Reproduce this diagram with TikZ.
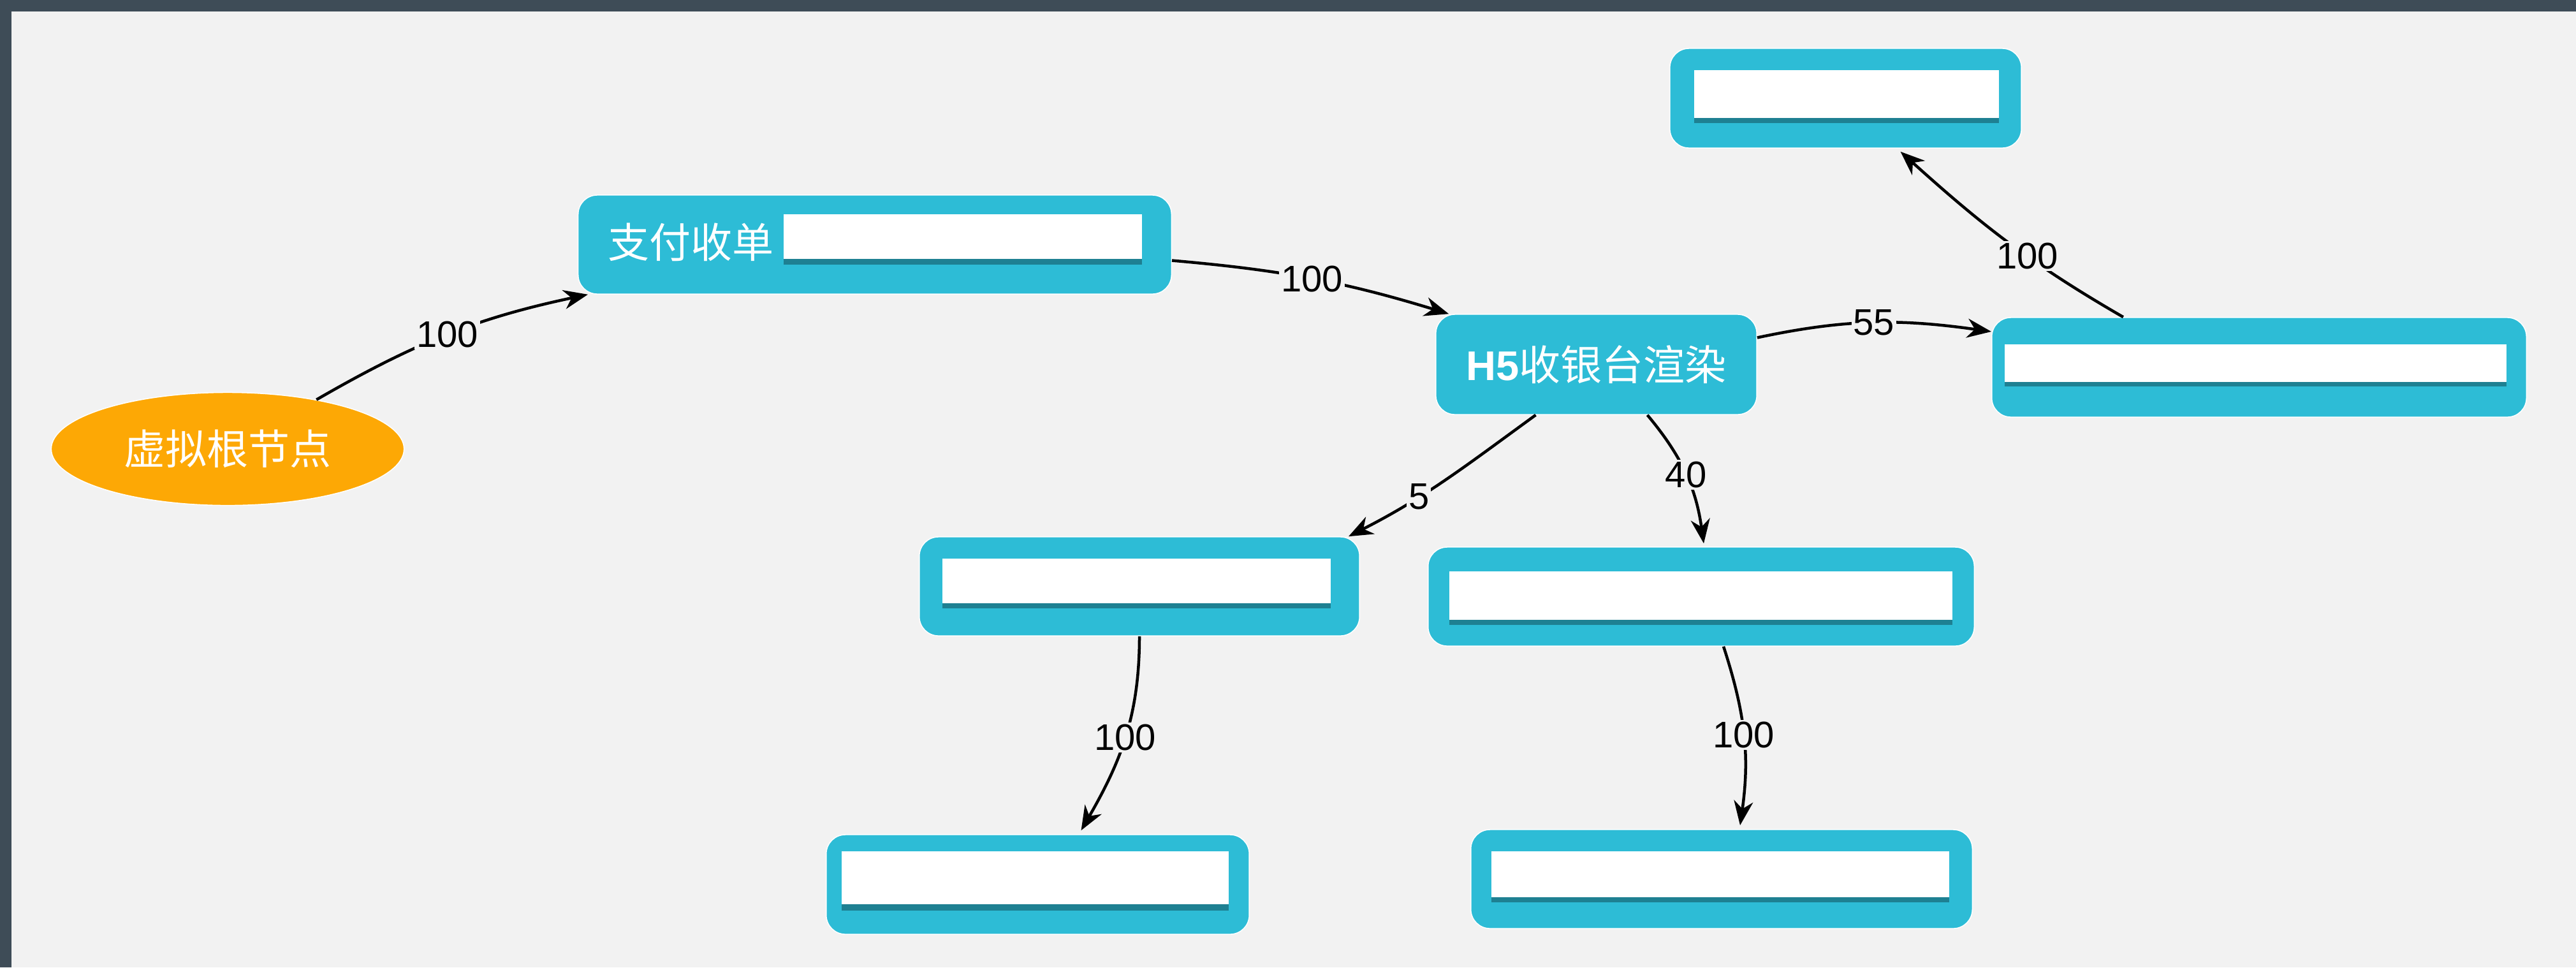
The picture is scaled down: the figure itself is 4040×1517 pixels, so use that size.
\documentclass[tikz,border=0pt]{standalone}
\usepackage{fontspec}
\setmainfont{Liberation Sans}
\newfontfamily\cjk{Noto Sans CJK SC}
\usetikzlibrary{shapes.geometric,arrows.meta}
\definecolor{bgdark}{RGB}{62,76,87}
\definecolor{bglight}{RGB}{242,242,242}
\definecolor{cyanbox}{RGB}{45,188,214}
\definecolor{orangeroot}{RGB}{253,168,5}
\definecolor{shadowc}{RGB}{30,128,146}
\begin{document}
\begin{tikzpicture}[x=0.01cm,y=-0.01cm,
  box/.style={rectangle, rounded corners=0.3cm, fill=cyanbox, draw=white, line width=0.015cm, inner sep=0pt},
  root/.style={ellipse, fill=orangeroot, draw=white, line width=0.015cm, inner sep=0pt},
  cjktxt/.style={text=white, font=\cjk\fontsize{18.5pt}{22pt}\selectfont, inner sep=0pt},
  conn/.style={line width=0.045cm, black, -{Stealth[length=0.38cm,width=0.3cm,inset=0.12cm]}},
  lbl/.style={fill=bglight, text=black, font=\fontsize{16.5pt}{18pt}\selectfont, inner sep=0.03cm},
  inner/.style={fill=white},
  innershadow/.style={fill=shadowc}
]
\fill[bgdark] (0,0) rectangle (4040,1517);
\fill[bglight] (18,18) rectangle (4040,1517);
\useasboundingbox (0,0) rectangle (4040,1517);

% nodes
\node[root, minimum width=5.53cm, minimum height=1.77cm, cjktxt, text=white] (root) at (357,704) {虚拟根节点};
\node[box, minimum width=9.30cm, minimum height=1.55cm] (A) at (1372,383.5) {};
\node[cjktxt, anchor=west] (Atxt) at (953,380) {支付收单};
\node[box, minimum width=5.03cm, minimum height=1.57cm, cjktxt, text=white] (H5) at (2503.5,571.5) {{\rmfamily\bfseries H5}收银台渲染};
\node[box, minimum width=8.38cm, minimum height=1.56cm] (R) at (3543,576) {};
\node[box, minimum width=5.51cm, minimum height=1.56cm] (T) at (2894.5,154) {};
\node[box, minimum width=6.90cm, minimum height=1.55cm] (L5) at (1787,919.5) {};
\node[box, minimum width=8.56cm, minimum height=1.55cm] (M) at (2668,935.5) {};
\node[box, minimum width=6.63cm, minimum height=1.56cm] (BL) at (1627.5,1387) {};
\node[box, minimum width=7.86cm, minimum height=1.55cm] (BR) at (2700,1378.5) {};

% white inner fields with shadow
\fill[innershadow] (1229,400) rectangle (1791,415);
\fill[inner] (1229,336) rectangle (1791,406);
\fill[innershadow] (2657,180) rectangle (3135,193);
\fill[inner] (2657,110) rectangle (3135,185);
\fill[innershadow] (3144,592) rectangle (3931,606);
\fill[inner] (3144,540) rectangle (3931,599);
\fill[innershadow] (1478,940) rectangle (2087,954);
\fill[inner] (1478,876) rectangle (2087,946);
\fill[innershadow] (2273,965) rectangle (3062,980);
\fill[inner] (2273,896) rectangle (3062,972);
\fill[innershadow] (1320,1412) rectangle (1927,1428);
\fill[inner] (1320,1335) rectangle (1927,1418);
\fill[innershadow] (2339,1400) rectangle (3057,1415);
\fill[inner] (2339,1335) rectangle (3057,1407);

% connectors
\draw[conn] (root.29) to[out=30,in=192] node[lbl]{100} ([xshift=0.16cm]A.south west);
\draw[conn] ([yshift=-0.25cm]A.east) to[out=-5,in=163] node[lbl]{100} ([xshift=0.21cm]H5.north west);
\draw[conn] ([yshift=0.42cm]H5.east) to[out=12,in=172] node[lbl]{55} ([yshift=0.56cm]R.west);
\draw[conn] ([xshift=-2.13cm]R.north) to[out=150,in=-42] node[lbl,pos=0.4]{100} ([xshift=0.86cm,yshift=-0.05cm]T.south);
\draw[conn] ([xshift=-0.95cm]H5.south) to[out=-144,in=27] node[lbl,pos=0.65]{5} ([xshift=-0.18cm]L5.north east);
\draw[conn] ([xshift=0.80cm]H5.south) to[out=-50,in=98] node[lbl]{40} ([xshift=0.04cm,yshift=0.05cm]M.north);
\draw[conn] (L5.south) to[out=-90,in=60] node[lbl]{100} ([xshift=0.68cm,yshift=0.06cm]BL.north);
\draw[conn] ([xshift=0.35cm]M.south) to[out=-72,in=82] node[lbl]{100} ([xshift=0.29cm,yshift=0.06cm]BR.north);
\end{tikzpicture}
\end{document}
